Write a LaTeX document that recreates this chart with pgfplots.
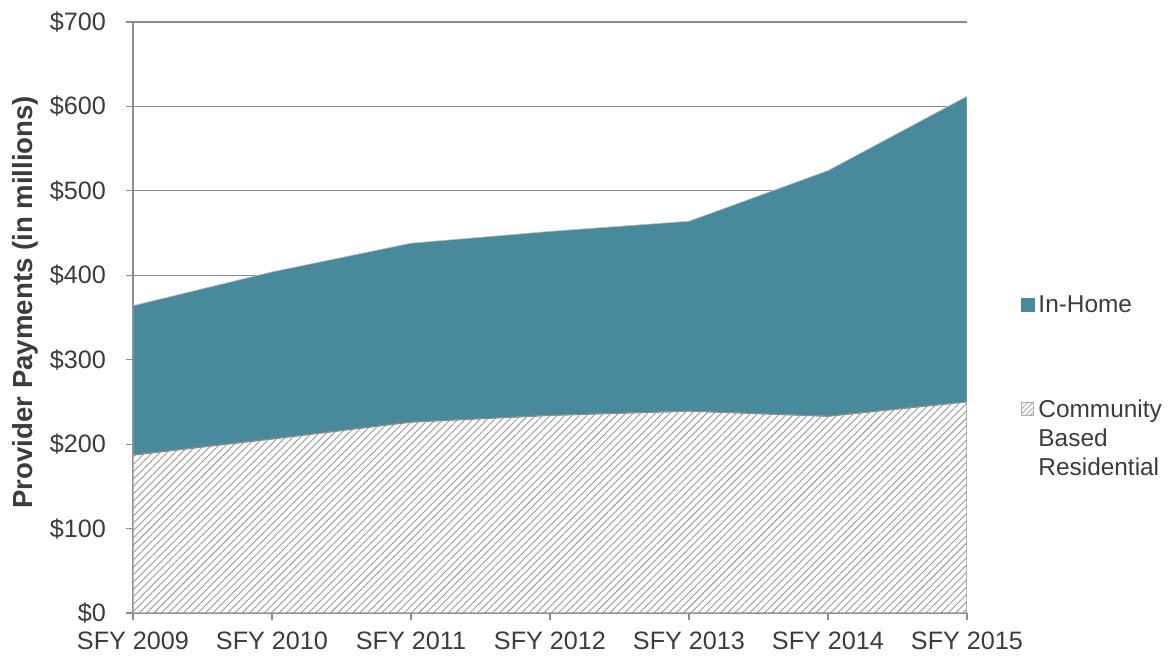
\documentclass[border=0pt]{standalone}
\usepackage{pgfplots}
\pgfplotsset{compat=1.18}
\usepackage{fontspec}
\setmainfont{Liberation Sans}
\usetikzlibrary{patterns.meta}
\definecolor{teal1}{RGB}{72,138,156}
\definecolor{txt}{RGB}{60,60,60}
\definecolor{grid1}{RGB}{140,140,140}
\begin{document}
\begin{tikzpicture}
\begin{axis}[
  scale only axis,
  width=417pt, height=295.5pt,
  xmin=0, xmax=6, ymin=0, ymax=700,
  axis x line*=bottom, axis y line*=left,
  axis line style={grid1, line width=0.6pt},
  xtick={0,...,6},
  xticklabels={SFY 2009,SFY 2010,SFY 2011,SFY 2012,SFY 2013,SFY 2014,SFY 2015},
  ytick={0,100,...,700},
  yticklabels={\$0,\$100,\$200,\$300,\$400,\$500,\$600,\$700},
  ymajorgrids, grid style={grid1, line width=0.6pt},
  tick align=outside, major tick length=3.5pt,
  tick style={grid1, line width=0.6pt},
  tick label style={font=\fontsize{12.6}{14}\selectfont, text=txt},
  yticklabel style={xshift=-6.5pt},
  xticklabel style={yshift=-2.5pt},
  ylabel={\textbf{Provider Payments (in millions)}},
  ylabel style={font=\fontsize{13.8}{16}\selectfont, text=txt},
  every axis y label/.append style={at={(axis description cs:-0.1295,0.526)}, anchor=center},
  stack plots=y,
  legend style={at={(1.064,0.545)}, anchor=north west, draw=none, fill=none,
    font=\fontsize{12.2}{14.5}\selectfont, text=txt, row sep=37pt, inner sep=0pt},
  legend cell align=left,
  reverse legend,
]
\addplot[draw=grid1, line width=0.4pt, preaction={fill=white},
  pattern={Lines[angle=45, distance=2.6pt, line width=0.45pt]}, pattern color=gray!80,
  legend image code/.code={\draw[grid1!70, line width=0.4pt, pattern={Lines[angle=45, distance=1.8pt, line width=0.4pt]}, pattern color=gray!70] (0pt,-3.1pt) rectangle (6.2pt,3.1pt);}]
  coordinates {(0,187) (1,206) (2,226) (3,234) (4,239) (5,233) (6,250)} \closedcycle;
\addlegendentry{\begin{tabular}[t]{@{}l@{}}Community\\Based\\Residential\end{tabular}}
\addplot[fill=teal1, draw=gray!50, line width=0.3pt,
  legend image code/.code={\fill[teal1] (0pt,-3.25pt) rectangle (6.5pt,3.25pt);}]
  coordinates {(0,177) (1,198) (2,212) (3,218) (4,225) (5,291) (6,362)} \closedcycle;
\addlegendentry{In-Home}
\end{axis}
\useasboundingbox (-66.5pt,-21.5pt) rectangle (519.5pt,306.5pt);
\end{tikzpicture}
\end{document}
